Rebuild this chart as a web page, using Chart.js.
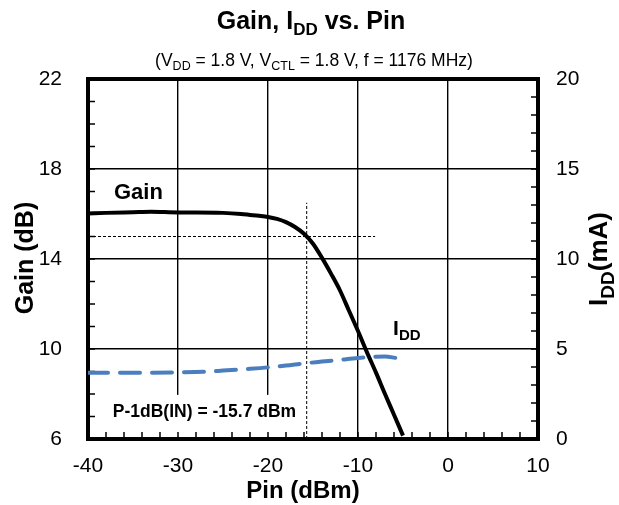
<!DOCTYPE html>
<html>
<head>
<meta charset="utf-8">
<script src="https://cdn.jsdelivr.net/npm/chart.js@4"></script>
<style>
  body { margin: 0; background: #fff; }
  #wrap { width: 619px; height: 505px; }
</style>
</head>
<body>
<div id="wrap"><canvas id="gain-idd-chart" width="619" height="505"></canvas></div>
<script>
// Gain, IDD vs Pin

const pinGain = [-40, -38, -35, -33, -30, -28, -25, -23, -22, -21, -20, -19, -18, -17, -16, -15, -14, -13, -12, -11, -10, -9, -8, -7, -6, -5]
const gainValues = [16.02, 16.05, 16.08, 16.1, 16.07, 16.07, 16.05, 16.0, 15.96, 15.92, 15.87, 15.78, 15.64, 15.42, 15.12, 14.68, 14.05, 13.35, 12.6, 11.7, 10.8, 9.85, 8.95, 8.0, 7.08, 6.15]

const pinIdd = [-40, -35, -30, -27, -25, -22, -20, -18, -16, -14, -12, -10, -8, -7, -6, -5]
const iddValues = [3.68, 3.68, 3.7, 3.74, 3.8, 3.9, 3.98, 4.08, 4.2, 4.3, 4.4, 4.5, 4.57, 4.58, 4.52, 4.42]

// P-1dB markers
const p1dbIn = -15.7
const gainRef = 15
const refLineX = [-40, -8.1]
const refLineY = [6, 16.5]

const xTicks = [-40, -30, -20, -10, 0, 10]
const gainTicks = [6, 10, 14, 18, 22]
const iddTicks = [0, 5, 10, 15, 20]

const FONT = "'Liberation Sans', Arial, sans-serif"

const toPoints = function(xs, ys) {
    return xs.map(function(x, i) { return { x: x, y: ys[i] } })
}

// draws text with subscript parts, pieces = [[text, isSub], ...]
const drawRich = function(ctx, pieces, x, y, size, subSize, bold, align) {
    const w = bold ? "bold " : ""
    let total = 0
    pieces.forEach(function(p) {
        ctx.font = w + (p[1] ? subSize : size) + "px " + FONT
        total += ctx.measureText(p[0]).width
    })
    let cx = align === "center" ? x - total / 2 : x
    ctx.textAlign = "left"
    ctx.textBaseline = "alphabetic"
    pieces.forEach(function(p) {
        ctx.font = w + (p[1] ? subSize : size) + "px " + FONT
        ctx.fillText(p[0], cx, p[1] ? y + size * 0.25 : y)
        cx += ctx.measureText(p[0]).width
    })
}

const extras = {
    id: "extras",
    beforeDatasetsDraw(chart) {
        const ctx = chart.ctx
        const a = chart.chartArea
        const sx = chart.scales.x, sy = chart.scales.y, sy1 = chart.scales.y1
        ctx.save()
        ctx.strokeStyle = "#000"

        // white box behind the P-1dB label
        ctx.fillStyle = "#fff"
        const bx = sx.getPixelForValue(-39.8), bx2 = sx.getPixelForValue(-17.6)
        const by = sy.getPixelForValue(7.96), by2 = sy.getPixelForValue(6.1)
        ctx.fillRect(bx, by, bx2 - bx, by2 - by)

        // inner minor ticks
        ctx.lineWidth = 1.5
        ctx.beginPath()
        for (let v = 7; v < 22; v++) {
            const py = sy.getPixelForValue(v)
            ctx.moveTo(a.left, py); ctx.lineTo(a.left + 7, py)
        }
        for (let v = 1; v < 20; v++) {
            const py = sy1.getPixelForValue(v)
            ctx.moveTo(a.right, py); ctx.lineTo(a.right - 7, py)
        }
        for (let v = -38; v < 10; v += 2) {
            const px = sx.getPixelForValue(v)
            ctx.moveTo(px, a.bottom); ctx.lineTo(px, a.bottom - 7)
        }
        ctx.stroke()

        // frame
        ctx.lineWidth = 4
        ctx.strokeRect(a.left, a.top, a.right - a.left, a.bottom - a.top)

        ctx.fillStyle = "#000"
        // annotations
        ctx.font = "bold 22px " + FONT
        ctx.textAlign = "center"
        ctx.fillText("Gain", sx.getPixelForValue(-34.4), sy.getPixelForValue(16.67))
        drawRich(ctx, [["I", false], ["DD", true]], sx.getPixelForValue(-6.1), sy.getPixelForValue(10.62), 21, 15, true, "left")
        ctx.font = "bold 17.5px " + FONT
        ctx.textAlign = "center"
        ctx.fillText("P-1dB(IN) = -15.7 dBm", sx.getPixelForValue(-27.06), sy.getPixelForValue(7.0))
        ctx.restore()
    },
    afterDraw(chart) {
        const ctx = chart.ctx
        ctx.save()
        ctx.fillStyle = "#000"
        drawRich(ctx, [["Gain, I", false], ["DD", true], [" vs. Pin", false]], 311, 29, 25, 17, true, "center")
        drawRich(ctx, [["(V", false], ["DD", true], [" = 1.8 V, V", false], ["CTL", true], [" = 1.8 V, f = 1176 MHz)", false]], 314, 66, 17.5, 12.5, false, "center")

        ctx.font = "bold 24px " + FONT
        ctx.textAlign = "center"
        ctx.fillText("Pin (dBm)", 303, 498)

        ctx.font = "bold 25px " + FONT
        ctx.translate(33, 258)
        ctx.rotate(-Math.PI / 2)
        ctx.fillText("Gain (dB)", 0, 0)
        ctx.restore()

        ctx.save()
        ctx.fillStyle = "#000"
        ctx.translate(607, 259)
        ctx.rotate(-Math.PI / 2)
        drawRich(ctx, [["I", false], ["DD", true], ["(mA)", false]], 0, 0, 26, 19, true, "center")
        ctx.restore()
    }
}

const tickFont = { family: FONT, size: 21 }

new Chart("gain-idd-chart", {
    type: "line",
    data: {
        datasets: [
            {
                label: "Gain",
                data: toPoints(pinGain, gainValues),
                yAxisID: "y",
                borderColor: "#000",
                borderWidth: 4,
                pointRadius: 0,
                cubicInterpolationMode: "monotone",
                fill: false
            },
            {
                label: "IDD",
                data: toPoints(pinIdd, iddValues),
                yAxisID: "y1",
                borderColor: "#4a7ebf",
                borderWidth: 4,
                borderDash: [20, 12],
                borderCapStyle: "round",
                pointRadius: 0,
                cubicInterpolationMode: "monotone",
                fill: false
            },
            {
                label: "ref h",
                data: toPoints(refLineX, [gainRef, gainRef]),
                yAxisID: "y",
                borderColor: "#000",
                borderWidth: 1,
                borderDash: [3, 2],
                pointRadius: 0
            },
            {
                label: "ref v",
                data: toPoints([p1dbIn, p1dbIn], refLineY),
                yAxisID: "y",
                borderColor: "#000",
                borderWidth: 1,
                borderDash: [3, 2],
                pointRadius: 0
            }
        ]
    },
    options: {
        responsive: false,
        animation: false,
        layout: { padding: { top: 79, left: 0, right: 0, bottom: 0 } },
        plugins: {
            legend: { display: false },
            tooltip: { enabled: false }
        },
        scales: {
            x: {
                type: "linear",
                min: -40,
                max: 10,
                afterBuildTicks: function(s) { s.ticks = xTicks.map(function(v) { return { value: v } }) },
                ticks: { font: tickFont, color: "#000", padding: 15 },
                grid: { color: "#000", lineWidth: 1.4, drawTicks: false },
                border: { display: false },
                afterFit: function(s) { s.height = 66 }
            },
            y: {
                position: "left",
                min: 6,
                max: 22,
                afterBuildTicks: function(s) { s.ticks = gainTicks.map(function(v) { return { value: v } }) },
                ticks: { font: tickFont, color: "#000", padding: 26 },
                grid: { color: "#000", lineWidth: 1.4, drawTicks: false },
                border: { display: false },
                afterFit: function(s) { s.width = 88 }
            },
            y1: {
                position: "right",
                min: 0,
                max: 20,
                afterBuildTicks: function(s) { s.ticks = iddTicks.map(function(v) { return { value: v } }) },
                ticks: { font: tickFont, color: "#000", padding: 18 },
                grid: { display: false, drawTicks: false },
                border: { display: false },
                afterFit: function(s) { s.width = 81 }
            }
        }
    },
    plugins: [extras]
});
</script>
</body>
</html>
